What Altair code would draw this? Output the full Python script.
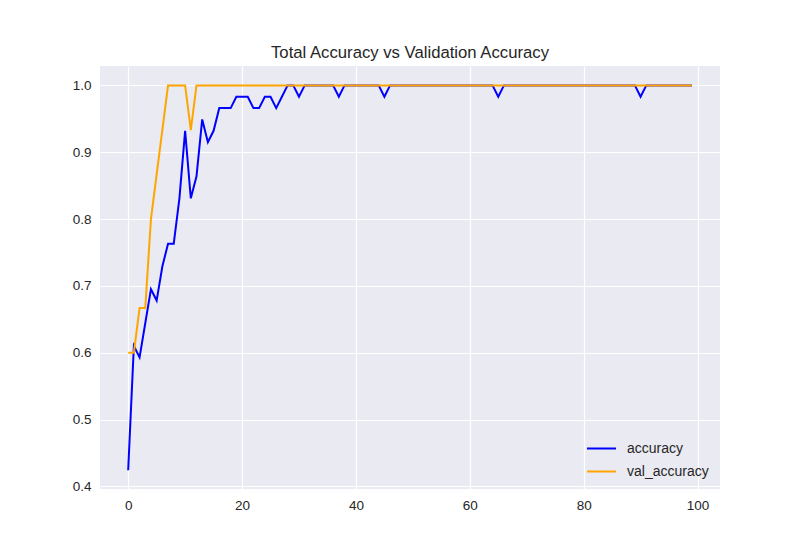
import altair as alt
import pandas as pd

epochs = list(range(100))

accuracy = [
    0.424, 0.610, 0.593, 0.644, 0.695, 0.678, 0.729, 0.763, 0.763, 0.831,
    0.932, 0.831, 0.864, 0.949, 0.915, 0.932, 0.966, 0.966, 0.966, 0.983,
    0.983, 0.983, 0.966, 0.966, 0.983, 0.983, 0.966, 0.983, 1.0, 1.0,
    0.983, 1.0, 1.0, 1.0, 1.0, 1.0, 1.0, 0.983, 1.0, 1.0,
    1.0, 1.0, 1.0, 1.0, 1.0, 0.983, 1.0, 1.0, 1.0, 1.0,
    1.0, 1.0, 1.0, 1.0, 1.0, 1.0, 1.0, 1.0, 1.0, 1.0,
    1.0, 1.0, 1.0, 1.0, 1.0, 0.983, 1.0, 1.0, 1.0, 1.0,
    1.0, 1.0, 1.0, 1.0, 1.0, 1.0, 1.0, 1.0, 1.0, 1.0,
    1.0, 1.0, 1.0, 1.0, 1.0, 1.0, 1.0, 1.0, 1.0, 1.0,
    0.983, 1.0, 1.0, 1.0, 1.0, 1.0, 1.0, 1.0, 1.0, 1.0,
]

val_accuracy = [
    0.600, 0.600, 0.667, 0.667, 0.800, 0.867, 0.933, 1.0, 1.0, 1.0,
    1.0, 0.933, 1.0, 1.0, 1.0, 1.0, 1.0, 1.0, 1.0, 1.0,
    1.0, 1.0, 1.0, 1.0, 1.0, 1.0, 1.0, 1.0, 1.0, 1.0,
    1.0, 1.0, 1.0, 1.0, 1.0, 1.0, 1.0, 1.0, 1.0, 1.0,
    1.0, 1.0, 1.0, 1.0, 1.0, 1.0, 1.0, 1.0, 1.0, 1.0,
    1.0, 1.0, 1.0, 1.0, 1.0, 1.0, 1.0, 1.0, 1.0, 1.0,
    1.0, 1.0, 1.0, 1.0, 1.0, 1.0, 1.0, 1.0, 1.0, 1.0,
    1.0, 1.0, 1.0, 1.0, 1.0, 1.0, 1.0, 1.0, 1.0, 1.0,
    1.0, 1.0, 1.0, 1.0, 1.0, 1.0, 1.0, 1.0, 1.0, 1.0,
    1.0, 1.0, 1.0, 1.0, 1.0, 1.0, 1.0, 1.0, 1.0, 1.0,
]

series = ["accuracy", "val_accuracy"]
colors = ["blue", "orange"]

df = pd.concat(
    [
        pd.DataFrame({"epoch": epochs, "value": accuracy, "series": series[0]}),
        pd.DataFrame({"epoch": epochs, "value": val_accuracy, "series": series[1]}),
    ]
)

FONT = "Liberation Sans"
TEXT = "#262626"

base = (
    alt.Chart(df)
    .mark_line(strokeWidth=2)
    .encode(
        x=alt.X(
            "epoch:Q",
            title=None,
            scale=alt.Scale(domain=[-4.95, 103.95], nice=False, zero=False),
            axis=alt.Axis(values=[0, 20, 40, 60, 80, 100]),
        ),
        y=alt.Y(
            "value:Q",
            title=None,
            scale=alt.Scale(domain=[0.396, 1.029], nice=False, zero=False),
            axis=alt.Axis(values=[0.4, 0.5, 0.6, 0.7, 0.8, 0.9, 1.0], format=".1f"),
        ),
        color=alt.Color(
            "series:N",
            scale=alt.Scale(domain=series, range=colors),
            legend=alt.Legend(
                title=None,
                orient="none",
                legendX=486,
                legendY=367,
                symbolType="stroke",
                symbolSize=841,
                symbolStrokeWidth=2,
                labelFontSize=14,
                labelFont=FONT,
                labelColor=TEXT,
                rowPadding=-11,
                labelOffset=10,
            ),
        ),
    )
)

# val_accuracy drawn last so it sits on top, as in matplotlib
chart = (
    alt.layer(
        base.transform_filter(alt.datum.series == series[0]),
        base.transform_filter(alt.datum.series == series[1]),
    )
    .properties(
        width=620,
        height=423,
        background="white",
        title=alt.TitleParams(
            "Total Accuracy vs Validation Accuracy",
            font=FONT,
            fontSize=16.7,
            fontWeight="normal",
            color=TEXT,
            offset=4,
        ),
        autosize=alt.AutoSizeParams(type="none"),
        padding={"left": 92, "top": 58, "right": 72, "bottom": 53},
    )
    .configure_view(fill="#EAEAF2", stroke=None)
    .configure_axis(
        grid=True,
        gridColor="white",
        gridWidth=1.2,
        domain=False,
        ticks=False,
        labelFont=FONT,
        labelFontSize=13.5,
        labelColor=TEXT,
        labelPadding=9,
    )
)

chart.save("out.html", embed_options={"renderer": "svg", "actions": False})
